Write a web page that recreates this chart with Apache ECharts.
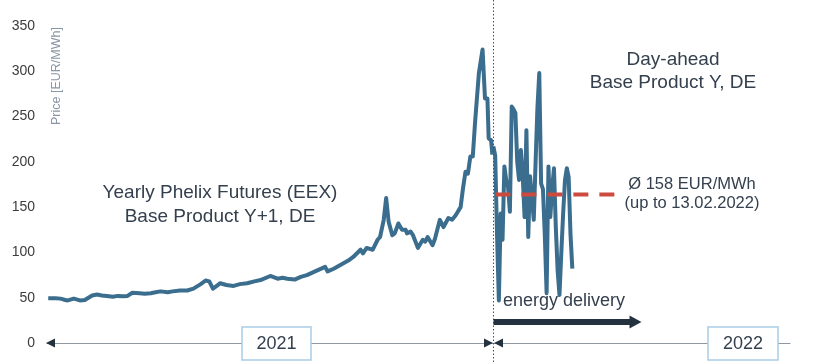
<!DOCTYPE html>
<html><head><meta charset="utf-8">
<script src="https://cdn.jsdelivr.net/npm/echarts@6/dist/echarts.min.js"></script>
<style>html,body{margin:0;padding:0;background:#fff}#c{width:840px;height:363px}</style>
</head><body><div id="c"></div><script>
// ---- data ----
const yTickMin = 0, yTickMax = 350, yTickStep = 50;
// Yearly Phelix futures 2021 (day of year -> EUR/MWh)
const futuresDays = [1,7,11,15,17,22,27,31,37,41,45,49,54,58,62,66,70,76,80,85,89,93,99,103,109,115,120,126,130,133,136,140,142,147,153,158,164,170,175,183,189,193,197,203,208,213,218,222,228,230,235,239,243,247,251,257,259,262,267,271,273,276,278,280,283,285,288,291,294,295,298,300,304,308,310,312,316,318,322,325,329,332,335,339,341,343,345,347,349,351,354,357,358,359,361,362,364,365];
const futuresPrices = [49.5,49.5,49,47.5,47,49,47,47.5,52.5,53.5,52.5,52,51,52,51.5,52,55.5,55,54.5,55,56,57,56,57,58,58,60,65,69,68,60,64,66,64,63,65,66,68,69.5,74,71,72,71,70,73,75,78,80.5,84,79,82,85,88,91,95,103,99,105,103,114,117,136,160,134,119,121,132,125,125,121,123,119,105,114,112,117,108,115,136,128,138,136,141,150,171,189,187,206,206,246,298,324,324,270,270,226,224,208];
// Day-ahead base 2022 (day index -> EUR/MWh), up to 13.02.2022
const dayAheadDays = [1,2,3,4,5,6,7,8,9,10,11,12,13,14,15,16,17,18,19,20,21,22,23,24,25,26,27,28,29,30,31,32,33,34,35,36,37,38,39,40,41,42,43,44];
const dayAheadPrices = [217,207,120,47,143,114,195,180,172,145,261,258,254,200,180,213,184,139,235,117,184,160,136,200,260,298,176,170,120,55,195,139,170,193,128,80,53,100,143,180,193,183,120,82];
// average marker (drawn level) and its span in day-ahead days
const avgLineDays = [1, 70];
const avgLineLevel = 164;
const avgText = ['Ø 158 EUR/MWh', '(up to 13.02.2022)'];
const yearLabels = ['2021', '2022'];

// ---- chart ----
const FONT = '"Liberation Sans", Arial, sans-serif';
const TXT = '#34404e';
const LINE = '#3b6e8e';
const chart = echarts.init(document.getElementById('c'), null, {renderer: 'canvas'});

const option = {
  animation: false,
  backgroundColor: '#ffffff',
  grid: {left: 47, right: 50, top: 26, bottom: 20, containLabel: false},
  xAxis: [
    { type: 'value', min: 0, max: 609, show: true,
      axisLine: {show: true, lineStyle: {color: '#8d98a3', width: 1.2}},
      axisTick: {show: false}, axisLabel: {show: false}, splitLine: {show: false} },
    { type: 'value', min: -242, max: 162.5, show: false, splitLine: {show: false} }
  ],
  yAxis: {
    type: 'value', min: yTickMin, max: yTickMax, interval: yTickStep,
    axisLine: {show: false}, axisTick: {show: false}, splitLine: {show: false},
    axisLabel: {color: '#3c3c3c', fontSize: 14, fontFamily: FONT, margin: 12}
  },
  series: [
    { type: 'line', xAxisIndex: 0, data: futuresDays.map((d, i) => [d, futuresPrices[i]]),
      showSymbol: false, lineStyle: {color: LINE, width: 4, join: 'round'}, z: 3 },
    { type: 'line', xAxisIndex: 1, data: dayAheadDays.map((d, i) => [d, dayAheadPrices[i]]),
      showSymbol: false, lineStyle: {color: LINE, width: 4, join: 'round'}, z: 3 },
    { type: 'line', xAxisIndex: 1, data: avgLineDays.map(d => [d, avgLineLevel]),
      showSymbol: false, lineStyle: {color: '#cc4a3e', width: 4, type: [15, 11], dashOffset: -2}, z: 4 }
  ]
};
chart.setOption(option);

// boundary between 2021 and 2022 through the futures axis scale
const bx = Math.round(chart.convertToPixel({xAxisIndex: 0}, 365.5)) + 0.5;
const axisY = chart.convertToPixel({yAxisIndex: 0}, 0);
const DARK = '#24323f';

const g = [
  // vertical dotted separator
  {type: 'line', shape: {x1: bx, y1: 0, x2: bx, y2: 363}, style: {stroke: '#4a4f55', lineWidth: 1, lineDash: [1.5, 2]}, z: 10},
  // left end arrow
  {type: 'polygon', shape: {points: [[46, axisY], [55, axisY - 4.5], [55, axisY + 4.5]]}, style: {fill: DARK}, z: 10},
  // meeting arrows at the boundary
  {type: 'polygon', shape: {points: [[bx - 0.5, axisY], [bx - 9.5, axisY - 4.5], [bx - 9.5, axisY + 4.5]]}, style: {fill: DARK}, z: 10},
  {type: 'polygon', shape: {points: [[bx + 0.5, axisY], [bx + 9.5, axisY - 4.5], [bx + 9.5, axisY + 4.5]]}, style: {fill: DARK}, z: 10},
  // year boxes
  {type: 'rect', shape: {x: 242, y: 327, width: 69, height: 33}, style: {fill: '#fff', stroke: '#a9cbe6', lineWidth: 1.5}, z: 11},
  {type: 'text', x: 276.5, y: 344, style: {text: yearLabels[0], fill: TXT, font: '18px ' + FONT, align: 'center', verticalAlign: 'middle'}, z: 12},
  {type: 'rect', shape: {x: 708, y: 327, width: 70, height: 33}, style: {fill: '#fff', stroke: '#a9cbe6', lineWidth: 1.5}, z: 11},
  {type: 'text', x: 743, y: 344, style: {text: yearLabels[1], fill: TXT, font: '18px ' + FONT, align: 'center', verticalAlign: 'middle'}, z: 12},
  // energy delivery arrow
  {type: 'rect', shape: {x: bx, y: 319, width: 137, height: 6}, style: {fill: DARK}, z: 10},
  {type: 'polygon', shape: {points: [[bx + 136, 315.5], [bx + 148, 322], [bx + 136, 328.5]]}, style: {fill: DARK}, z: 10},
  {type: 'text', x: 503, y: 301, style: {text: 'energy delivery', fill: TXT, font: '18px ' + FONT, align: 'left', verticalAlign: 'middle'}, z: 12},
  // annotations
  {type: 'text', x: 220, y: 205, style: {text: 'Yearly Phelix Futures (EEX)\nBase Product Y+1, DE', fill: TXT, font: '19px ' + FONT, align: 'center', verticalAlign: 'middle', lineHeight: 24}, z: 12},
  {type: 'text', x: 673, y: 71.5, style: {text: 'Day-ahead\nBase Product Y, DE', fill: TXT, font: '19px ' + FONT, align: 'center', verticalAlign: 'middle', lineHeight: 23}, z: 12},
  {type: 'text', x: 692, y: 193.5, style: {text: avgText.join('\n'), fill: TXT, font: '16.5px ' + FONT, align: 'center', verticalAlign: 'middle', lineHeight: 19}, z: 12},
  // y axis title
  {type: 'text', x: 57, y: 76, rotation: Math.PI / 2, style: {text: 'Price [EUR/MWh]', fill: '#8a97a5', font: '12.5px ' + FONT, align: 'center', verticalAlign: 'middle'}, z: 12}
];
chart.setOption({graphic: g});
</script></body></html>
